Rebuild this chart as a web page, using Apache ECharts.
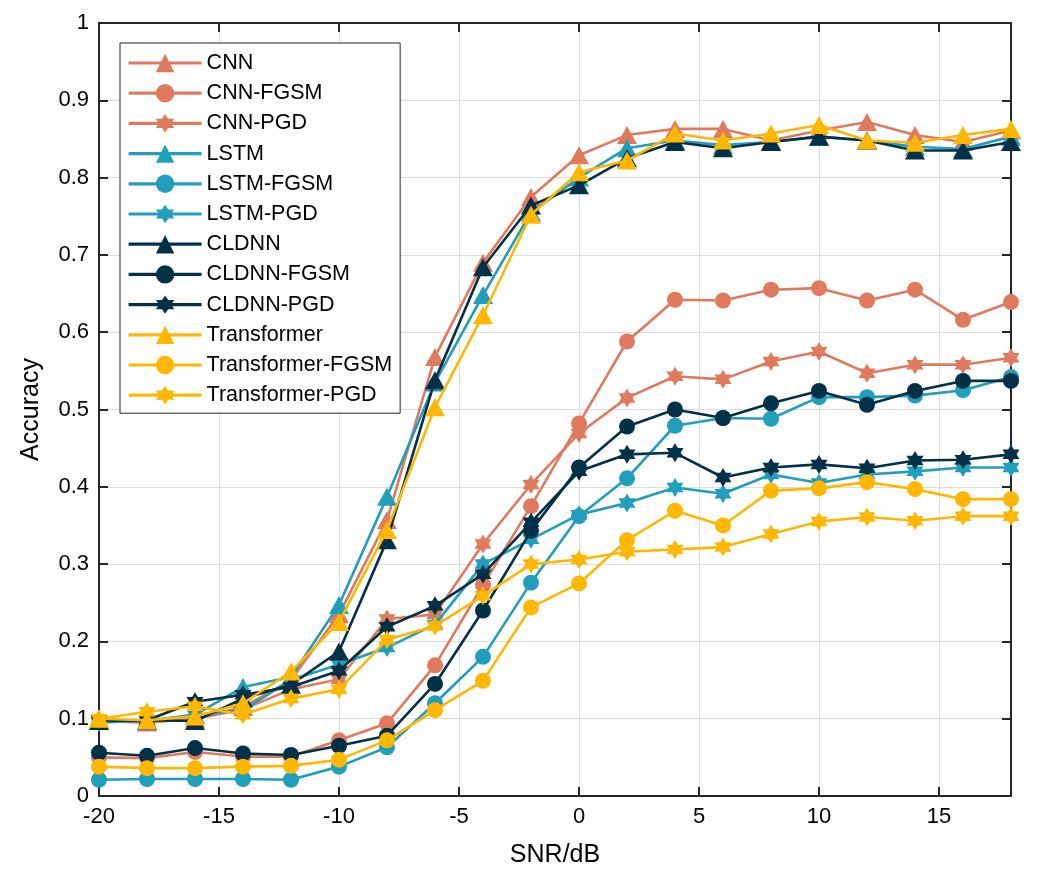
<!DOCTYPE html>
<html>
<head>
<meta charset="utf-8">
<script src="https://cdn.jsdelivr.net/npm/echarts@6/dist/echarts.min.js"></script>
<style>
html,body{margin:0;padding:0;background:#fff;}
#chart{width:1044px;height:886px;}
</style>
</head>
<body>
<div id="chart"></div>
<script>
const snr = [-20,-18,-16,-14,-12,-10,-8,-6,-4,-2,0,2,4,6,8,10,12,14,16,18];
const yTicks = [0,0.1,0.2,0.3,0.4,0.5,0.6,0.7,0.8,0.9,1];
const xTicks = [-20,-15,-10,-5,0,5,10,15];

const cnn        = [0.097,0.095,0.100,0.115,0.150,0.235,0.357,0.568,0.690,0.775,0.829,0.855,0.863,0.863,0.848,0.861,0.872,0.855,0.846,0.861];
const cnnFgsm    = [0.050,0.049,0.057,0.051,0.051,0.072,0.094,0.169,0.273,0.375,0.482,0.588,0.642,0.641,0.655,0.657,0.641,0.655,0.616,0.639];
const cnnPgd     = [0.097,0.095,0.100,0.112,0.138,0.151,0.229,0.235,0.326,0.403,0.469,0.515,0.543,0.539,0.562,0.575,0.547,0.558,0.558,0.567];
const lstm       = [0.097,0.097,0.105,0.141,0.154,0.247,0.387,0.535,0.648,0.755,0.800,0.838,0.848,0.842,0.846,0.853,0.848,0.840,0.837,0.853];
const lstmFgsm   = [0.021,0.022,0.022,0.022,0.021,0.038,0.063,0.120,0.180,0.276,0.362,0.411,0.479,0.489,0.488,0.516,0.516,0.518,0.525,0.542];
const lstmPgd    = [0.095,0.097,0.105,0.111,0.150,0.170,0.192,0.222,0.300,0.332,0.364,0.379,0.399,0.391,0.416,0.405,0.416,0.420,0.425,0.425];
const cldnn      = [0.097,0.098,0.097,0.126,0.144,0.187,0.331,0.538,0.684,0.764,0.790,0.825,0.846,0.838,0.846,0.853,0.848,0.835,0.835,0.846];
const cldnnFgsm  = [0.056,0.052,0.062,0.055,0.053,0.065,0.078,0.145,0.240,0.343,0.425,0.478,0.500,0.489,0.508,0.524,0.506,0.524,0.537,0.537];
const cldnnPgd   = [0.098,0.098,0.122,0.131,0.141,0.162,0.219,0.246,0.287,0.354,0.420,0.442,0.444,0.412,0.425,0.429,0.424,0.434,0.435,0.442];
const trans      = [0.100,0.098,0.103,0.120,0.161,0.225,0.344,0.503,0.622,0.752,0.807,0.822,0.857,0.848,0.857,0.868,0.848,0.845,0.855,0.863];
const transFgsm  = [0.038,0.036,0.036,0.038,0.039,0.047,0.072,0.111,0.149,0.244,0.275,0.331,0.369,0.350,0.395,0.398,0.406,0.397,0.384,0.384];
const transPgd   = [0.100,0.109,0.116,0.105,0.126,0.138,0.202,0.220,0.259,0.300,0.306,0.316,0.319,0.322,0.339,0.355,0.361,0.356,0.362,0.362];

const names = ['CNN','CNN-FGSM','CNN-PGD','LSTM','LSTM-FGSM','LSTM-PGD','CLDNN','CLDNN-FGSM','CLDNN-PGD','Transformer','Transformer-FGSM','Transformer-PGD'];
const values = [cnn,cnnFgsm,cnnPgd,lstm,lstmFgsm,lstmPgd,cldnn,cldnnFgsm,cldnnPgd,trans,transFgsm,transPgd];
const colors = ['#E07A5F','#219EBC','#023047','#FFB703'];

const hexagram = 'path://M0,-10L2.887,-5L8.66,-5L5.774,0L8.66,5L2.887,5L0,10L-2.887,5L-8.66,5L-5.774,0L-8.66,-5L-2.887,-5Z';
const symbols = ['triangle','circle',hexagram];
const sizes = [[20,18],16,[17,19]];

const series = names.map((n,i)=>{
  const c = colors[Math.floor(i/3)];
  return {
    name:n, type:'line', xAxisIndex:0, yAxisIndex:0,
    data: snr.map((x,k)=>[x, values[i][k]]),
    symbol: symbols[i%3], symbolSize: sizes[i%3],
    showAllSymbol:true,
    lineStyle:{color:c,width:2.6},
    itemStyle:{color:c,borderWidth:0},
    z: 2+i, animation:false
  };
});

const txt = '#000';
const font = 'Liberation Sans, Arial, sans-serif';
const chart = echarts.init(document.getElementById('chart'),null,{renderer:'canvas'});
chart.setOption({
  backgroundColor:'#fff',
  animation:false,
  color: names.map((n,i)=>colors[Math.floor(i/3)]),
  grid:{left:99,right:33,top:23,bottom:90,containLabel:false},
  legend:{
    data:names, orient:'vertical', left:120, top:43,
    itemWidth:73, itemHeight:23, itemGap:8.2,
    padding:[9,8,7,7],
    borderColor:'#262626', borderWidth:1, backgroundColor:'#fff',
    lineStyle:{width:3.2},
    textStyle:{fontFamily:font,fontSize:21.5,color:txt},
    z:20
  },
  xAxis:[{
    type:'value', min:-20, max:18, interval:5, position:'bottom',
    name:'SNR/dB', nameLocation:'middle', nameGap:47,
    nameTextStyle:{fontFamily:font,fontSize:25,color:txt},
    axisLine:{show:true,onZero:false,lineStyle:{color:'#262626',width:2}},
    axisTick:{show:true,inside:true,length:9,lineStyle:{color:'#262626',width:2}},
    axisLabel:{fontFamily:font,fontSize:22,color:txt,margin:10,showMaxLabel:false,
      formatter:v=> xTicks.includes(v)? String(v):''},
    splitLine:{show:true,lineStyle:{color:'#dedede',width:1}}
  },{
    type:'value', min:-20, max:18, interval:5, position:'top',
    axisLine:{show:true,onZero:false,lineStyle:{color:'#262626',width:2}},
    axisTick:{show:true,inside:true,length:9,lineStyle:{color:'#262626',width:2}},
    axisLabel:{show:false}, splitLine:{show:false}
  }],
  yAxis:[{
    type:'value', min:0, max:1, interval:0.1, position:'left',
    name:'Accuracy', nameLocation:'middle', nameGap:55, nameRotate:90,
    nameTextStyle:{fontFamily:font,fontSize:25,color:txt},
    axisLine:{show:true,onZero:false,lineStyle:{color:'#262626',width:2}},
    axisTick:{show:true,inside:true,length:9,lineStyle:{color:'#262626',width:2}},
    axisLabel:{fontFamily:font,fontSize:22,color:txt,margin:10,
      formatter:v=>{const t=yTicks.find(q=>Math.abs(q-v)<1e-9);return t===undefined?'':String(t);}},
    splitLine:{show:true,lineStyle:{color:'#dedede',width:1}}
  },{
    type:'value', min:0, max:1, interval:0.1, position:'right',
    axisLine:{show:true,onZero:false,lineStyle:{color:'#262626',width:2}},
    axisTick:{show:true,inside:true,length:9,lineStyle:{color:'#262626',width:2}},
    axisLabel:{show:false}, splitLine:{show:false}
  }],
  series: series
});
</script>
</body>
</html>
